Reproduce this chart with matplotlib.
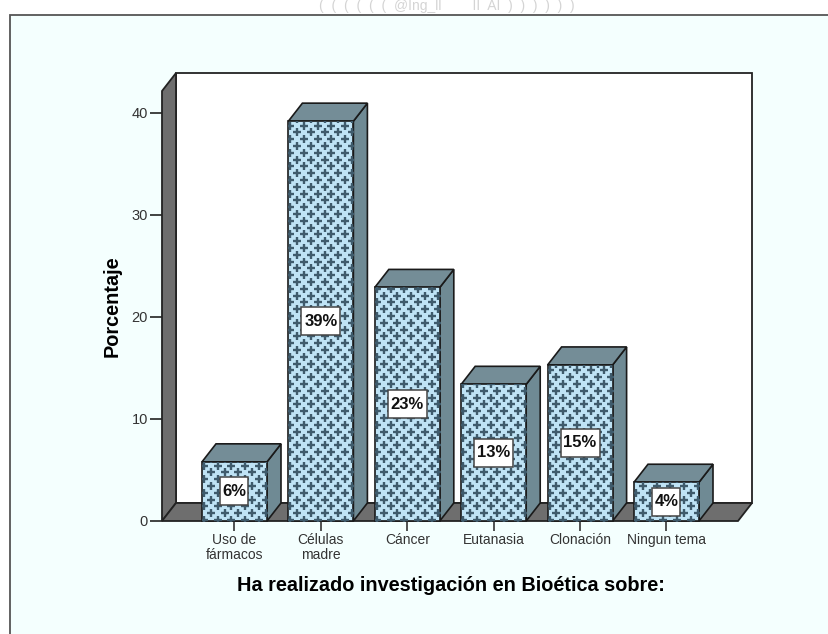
import numpy as np
from matplotlib import pyplot as plt
from matplotlib.patches import Rectangle

plt.rcParams['font.family'] = ['Liberation Sans', 'DejaVu Sans']

categorias = ['Uso de\nfármacos', 'Células\nmadre', 'Cáncer', 'Eutanasia', 'Clonación', 'Ningun tema']
porcentaje = [5.8, 39.2, 22.9, 13.4, 15.3, 3.8]
etiquetas = ['6%', '39%', '23%', '13%', '15%', '4%']
yticks = [0, 10, 20, 30, 40]

W, H = 829, 634
fig = plt.figure(figsize=(W / 100, H / 100), dpi=100, facecolor='white')

# marco exterior, se sale de la imagen por abajo y por la derecha
fig.add_artist(Rectangle((10 / W, -0.05), 1.0, (H - 15) / H + 0.05, transform=fig.transFigure,
                         facecolor='#F4FFFE', edgecolor='#555555', linewidth=1.3, zorder=-1))
fig.text(447 / W, (H - 6) / H, '(  (  (  (  (  (  @Ing_ll        II  AI  )  )  )  )  )  )', color='#D4D4D4',
         fontsize=10, ha='center', va='center')

ax = fig.add_axes([162 / W, (H - 521) / H, 576 / W, 430 / H])
ax.set_facecolor('none')

paso = 86.4
ax.set_xlim((162 - 234.5) / paso, (738 - 234.5) / paso)
ax.set_ylim(0, 430 / 10.2)
x0, x1 = ax.get_xlim()
y1 = ax.get_ylim()[1]
dx = 14 / paso
dy = 18 / 10.2
ancho = 65 / paso

gris = '#6E6E6E'
borde = '#222222'
# paredes del grafico 3D
ax.fill([x0 + dx, x1 + dx, x1 + dx, x0 + dx], [dy, dy, y1 + dy, y1 + dy], facecolor='white',
        edgecolor=borde, linewidth=1.3, clip_on=False, zorder=1)
ax.fill([x0, x0 + dx, x0 + dx, x0], [0, dy, y1 + dy, y1], facecolor=gris,
        edgecolor=borde, linewidth=1.3, clip_on=False, zorder=1)
ax.fill([x0, x1, x1 + dx, x0 + dx], [0, 0, dy, dy], facecolor=gris,
        edgecolor=borde, linewidth=1.3, clip_on=False, zorder=1)

for i, (h, txt) in enumerate(zip(porcentaje, etiquetas)):
    iz, de = i - ancho / 2, i + ancho / 2
    z = 2 + i
    ax.fill([de, de + dx, de + dx, de], [0, dy, h + dy, h], facecolor='#6F8A94',
            edgecolor='#1A1A1A', linewidth=1.2, clip_on=False, zorder=z)
    ax.fill([iz, de, de + dx, iz + dx], [h, h, h + dy, h + dy], facecolor='#748D97',
            edgecolor='#1A1A1A', linewidth=1.2, clip_on=False, zorder=z)
    rect = ax.bar(i, h, width=ancho, facecolor='#BFE3F5', edgecolor='#1A1A1A', linewidth=1.2,
                  clip_on=False, zorder=z)[0]
    # trama de cruces
    px = np.arange(iz + 2 / paso, de + 7 / paso, 13.7 / paso)
    py = np.arange(0.1, h + 0.7, 6.8 / 10.2)
    xs, ys = [], []
    for k, yy in enumerate(py):
        for xx in px:
            xs.append(xx + (6.85 / paso if k % 2 else 0))
            ys.append(yy)
    trama, = ax.plot(xs, ys, linestyle='none', marker='+', markersize=5.3, markeredgewidth=1.7,
                     color='#3F5B6C', zorder=z)
    trama.set_clip_path(rect)
    # caja blanca de la etiqueta
    caja = (39 if len(txt) == 3 else 28) / paso
    alto = 28 / 10.2
    ax.add_patch(Rectangle((i - caja / 2, h / 2 - alto / 2), caja, alto, facecolor='white',
                           edgecolor='#444444', linewidth=1.1, zorder=z + 0.4))
    ax.text(i, h / 2, txt, ha='center', va='center', fontsize=12, fontweight='bold', color='#111111',
            family=['Liberation Sans Narrow', 'Liberation Sans'], zorder=z + 0.5)

for s in ax.spines.values():
    s.set_visible(False)
ax.set_xticks(range(len(categorias)))
ax.set_xticklabels(categorias, fontsize=10, color='#333333', linespacing=1.1)
ax.set_yticks(yticks)
ax.tick_params(axis='x', length=7, width=1.1, color='#222222', pad=1.5)
ax.tick_params(axis='y', length=9, width=1.2, color='#222222', labelsize=10.5, labelcolor='#333333', pad=1)
ax.set_xlabel('Ha realizado investigación en Bioética sobre:', fontsize=14.3, fontweight='bold')
ax.xaxis.set_label_coords((451 - 162) / 576, -55 / 430)
ax.set_ylabel('Porcentaje', fontsize=14.3, fontweight='bold')
ax.yaxis.set_label_coords((122 - 162) / 576, (521 - 306) / 430)

plt.savefig('out.png', dpi=100)
